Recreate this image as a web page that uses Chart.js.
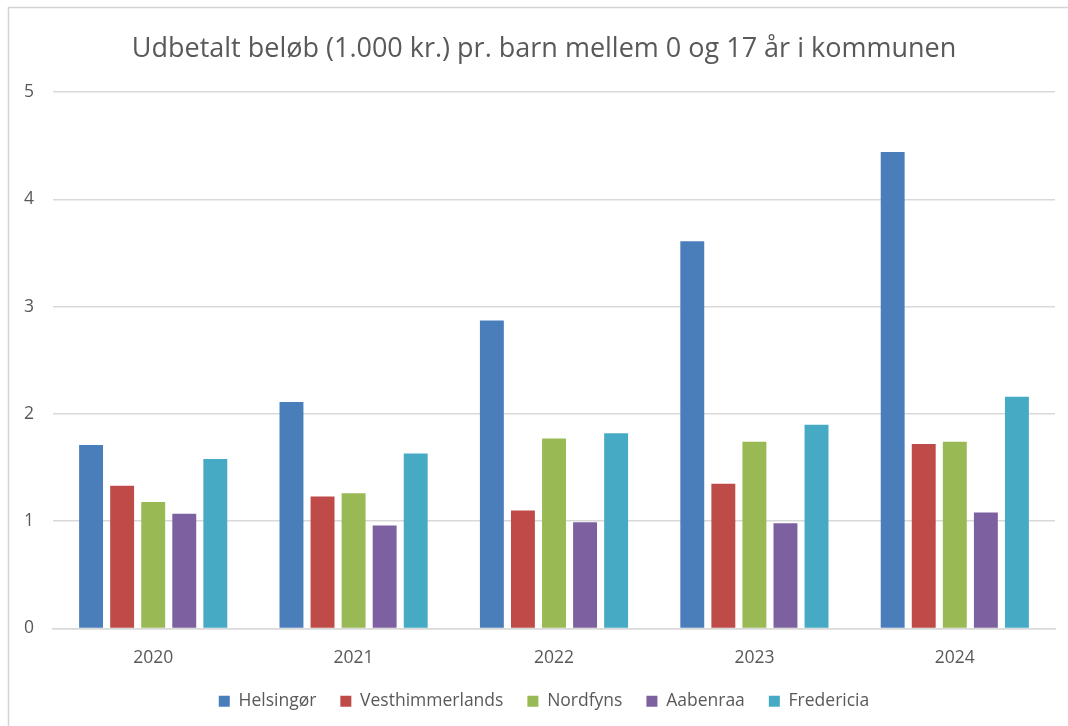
<!DOCTYPE html>
<html>
<head>
<meta charset="utf-8">
<script src="https://cdn.jsdelivr.net/npm/chart.js@4/dist/chart.umd.min.js"></script>
<style>
    html, body { margin: 0; padding: 0; background: #ffffff; overflow: hidden; }
    #wrap { position: relative; width: 1068px; height: 726px; }
</style>
</head>
<body>
<div id="wrap"><canvas id="chart" width="1068" height="726"></canvas></div>
<script>
// Data
const years = ['2020', '2021', '2022', '2023', '2024'];
const helsingor = [1.71, 2.11, 2.87, 3.61, 4.44];
const vesthimmerlands = [1.33, 1.23, 1.10, 1.35, 1.72];
const nordfyns = [1.18, 1.26, 1.77, 1.74, 1.74];
const aabenraa = [1.07, 0.96, 0.99, 0.98, 1.08];
const fredericia = [1.58, 1.63, 1.82, 1.90, 2.16];

const seriesNames = ['Helsingør', 'Vesthimmerlands', 'Nordfyns', 'Aabenraa', 'Fredericia'];
const seriesColors = ['#4a7ebb', '#be4b48', '#98b954', '#7d60a0', '#46aac5'];
const seriesData = [helsingor, vesthimmerlands, nordfyns, aabenraa, fredericia];

const textColor = '#595959';
const fontFamily = "'Open Sans', 'Noto Sans', sans-serif";

// thin frame on the left and top, like the cropped Excel chart border
const framePlugin = {
    id: 'frame',
    beforeDraw(chart) {
        const ctx = chart.ctx;
        ctx.save();
        ctx.strokeStyle = '#d4d4d4';
        ctx.lineWidth = 1.5;
        ctx.beginPath();
        ctx.moveTo(8.5, chart.height);
        ctx.lineTo(8.5, 7.5);
        ctx.lineTo(chart.width, 7.5);
        ctx.stroke();
        ctx.restore();
    },
};

// the original chart is wider than the crop, so title and legend sit a bit right of centre
const shiftPlugin = {
    id: 'shift',
    afterLayout(chart) {
        [chart.titleBlock, chart.legend].forEach((box) => {
            if (!box) return;
            box.left += 16.5;
            box.right += 16.5;
        });
    },
};

new Chart(document.getElementById('chart').getContext('2d'), {
    type: 'bar',
    data: {
        labels: years,
        datasets: seriesData.map((values, i) => ({
            label: seriesNames[i],
            data: values,
            backgroundColor: seriesColors[i],
            borderWidth: 0,
            categoryPercentage: 0.775,
            barPercentage: 0.77,
        })),
    },
    options: {
        responsive: false,
        animation: false,
        layout: {
            padding: { left: 0, right: 13, top: 0, bottom: 6 },
        },
        plugins: {
            title: {
                display: true,
                text: 'Udbetalt beløb (1.000 kr.) pr. barn mellem 0 og 17 år i kommunen',
                color: textColor,
                font: { family: fontFamily, size: 27, weight: 'normal' },
                padding: { top: 33, bottom: 26.6 },
            },
            legend: {
                position: 'bottom',
                labels: {
                    color: textColor,
                    font: { family: fontFamily, size: 17.5 },
                    boxWidth: 11,
                    boxHeight: 11,
                    padding: 24,
                },
            },
            tooltip: { enabled: false },
        },
        scales: {
            x: {
                afterFit: (scale) => { scale.height = 40; },
                grid: { display: false, drawTicks: false },
                border: { color: '#d9d9d9', width: 1.5 },
                ticks: {
                    color: textColor,
                    font: { family: fontFamily, size: 17.5 },
                    padding: 19,
                },
            },
            y: {
                min: 0,
                max: 5,
                afterFit: (scale) => { scale.width = 53; },
                grid: { color: '#d9d9d9', lineWidth: 1.5, drawTicks: false },
                border: { display: false },
                ticks: {
                    stepSize: 1,
                    color: textColor,
                    font: { family: fontFamily, size: 17.5 },
                    padding: 19,
                },
            },
        },
    },
    plugins: [framePlugin, shiftPlugin],
});
</script>
</body>
</html>
